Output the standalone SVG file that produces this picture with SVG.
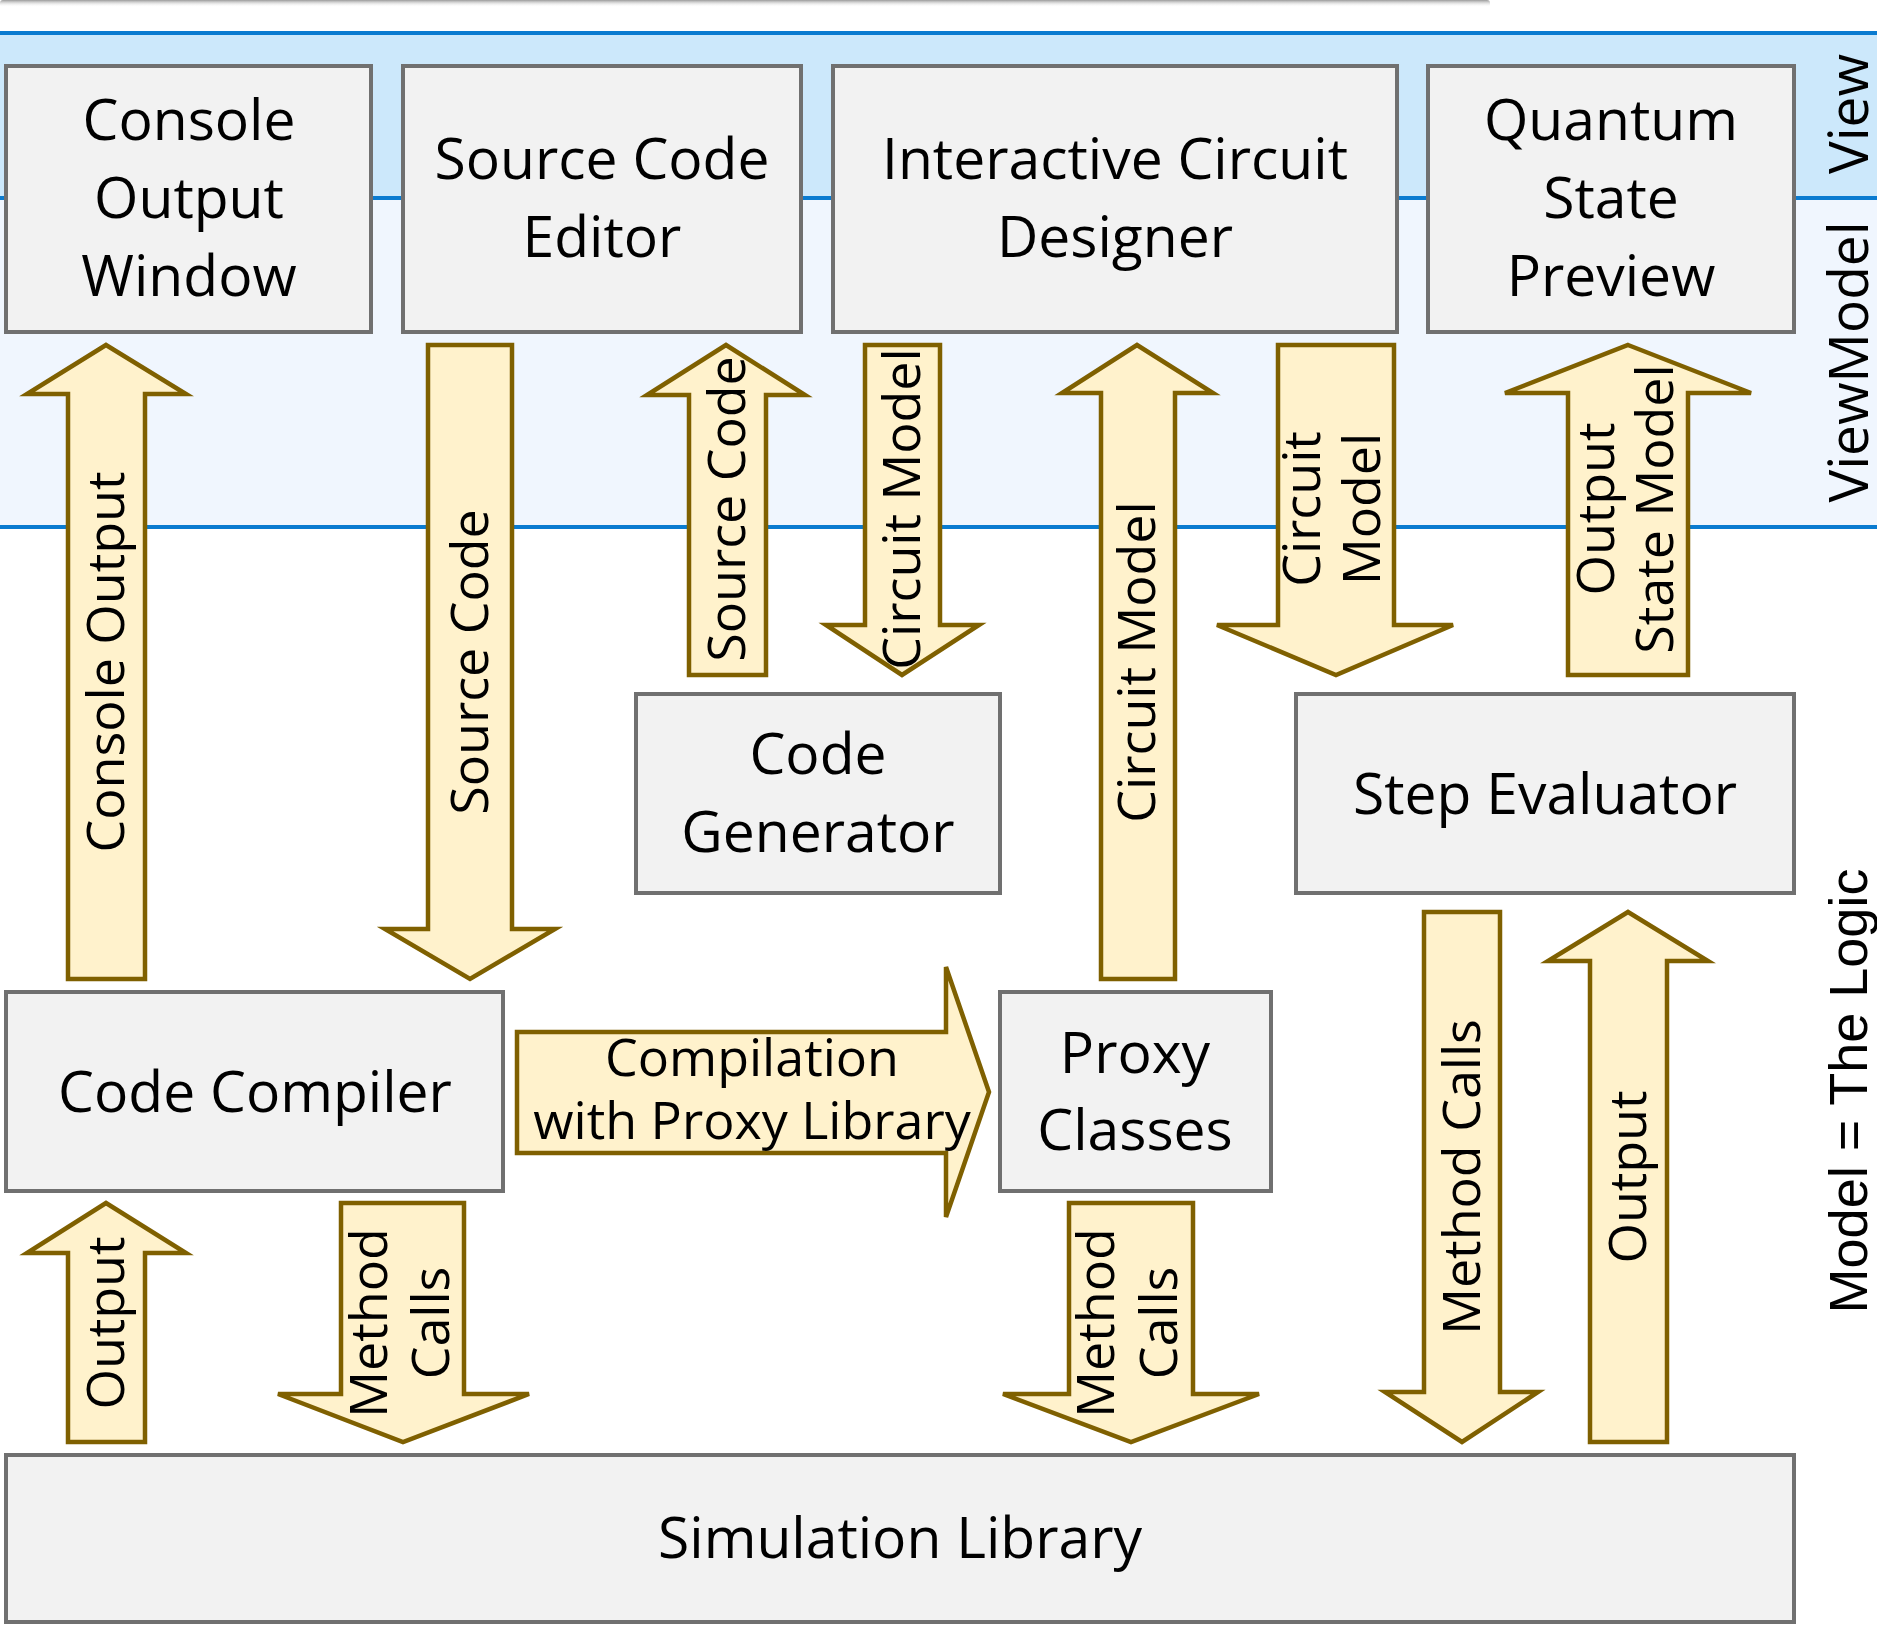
<svg xmlns="http://www.w3.org/2000/svg" width="1877" height="1650" viewBox="0 0 1877 1650">
  <defs>
    <linearGradient id="topShade" x1="0" y1="0" x2="0" y2="1">
      <stop offset="0" stop-color="#9a9a9a"/>
      <stop offset="1" stop-color="#ffffff" stop-opacity="0"/>
    </linearGradient>
    <style>
      .band-view { fill: #cce8fb; }
      .band-vm { fill: #f0f6fe; }
      .sep { stroke: #0a7bd0; stroke-width: 4; }
      .box { fill: #f2f2f2; stroke: #707070; stroke-width: 4; }
      .arrow { fill: #fff2cc; stroke: #7f6000; stroke-width: 4.5; stroke-linejoin: miter; }
      .lbl { font-family: "Open Sans", "Noto Sans", "DejaVu Sans", sans-serif; font-size: 57px; fill: #000; text-anchor: middle; }
      .alb { font-family: "Open Sans", "Noto Sans", "DejaVu Sans", sans-serif; font-size: 52px; fill: #000; text-anchor: middle; }
      .side { font-family: "Open Sans", "Noto Sans", "DejaVu Sans", sans-serif; font-size: 55px; fill: #000; text-anchor: middle; }
      .side2 { font-family: "Liberation Sans", Arial, sans-serif; font-size: 54px; fill: #000; text-anchor: middle; }
    </style>
  </defs>

  <rect width="1877" height="1650" fill="#ffffff"/>

  <!-- shadow strip along the top edge -->
  <rect x="0" y="0" width="1490" height="7" rx="3" fill="url(#topShade)"/>

  <!-- layer bands -->
  <g id="layers">
    <rect class="band-view" x="0" y="33" width="1877" height="165"/>
    <rect class="band-vm" x="0" y="198" width="1877" height="329"/>
    <line class="sep" x1="0" y1="33" x2="1877" y2="33"/>
    <line class="sep" x1="0" y1="198" x2="1877" y2="198"/>
    <line class="sep" x1="0" y1="527" x2="1877" y2="527"/>
    <text class="side" transform="translate(1868,114) rotate(-90)" x="0" y="0">View</text>
    <text class="side" transform="translate(1868,362) rotate(-90)" x="0" y="0">ViewModel</text>
    <text class="side2" transform="translate(1867,1091) rotate(-90)" x="0" y="0">Model = The Logic</text>
  </g>

  <!-- view components -->
  <g id="console-output-window">
    <rect class="box" x="6" y="66" width="365" height="266"/>
    <text class="lbl" x="189" y="140">Console</text>
    <text class="lbl" x="189" y="218">Output</text>
    <text class="lbl" x="189" y="296">Window</text>
  </g>
  <g id="source-code-editor">
    <rect class="box" x="403" y="66" width="398" height="266"/>
    <text class="lbl" x="602" y="179">Source Code</text>
    <text class="lbl" x="602" y="257">Editor</text>
  </g>
  <g id="interactive-circuit-designer">
    <rect class="box" x="833" y="66" width="564" height="266"/>
    <text class="lbl" x="1115" y="179">Interactive Circuit</text>
    <text class="lbl" x="1115" y="257">Designer</text>
  </g>
  <g id="quantum-state-preview">
    <rect class="box" x="1428" y="66" width="366" height="266"/>
    <text class="lbl" x="1611" y="140">Quantum</text>
    <text class="lbl" x="1611" y="218">State</text>
    <text class="lbl" x="1611" y="296">Preview</text>
  </g>

  <!-- model components -->
  <g id="code-generator">
    <rect class="box" x="636" y="694" width="364" height="199"/>
    <text class="lbl" x="818" y="774">Code</text>
    <text class="lbl" x="818" y="852">Generator</text>
  </g>
  <g id="step-evaluator">
    <rect class="box" x="1296" y="694" width="498" height="199"/>
    <text class="lbl" x="1545" y="814">Step Evaluator</text>
  </g>
  <g id="code-compiler">
    <rect class="box" x="6" y="992" width="497" height="199"/>
    <text class="lbl" x="255" y="1112">Code Compiler</text>
  </g>
  <g id="proxy-classes">
    <rect class="box" x="1000" y="992" width="271" height="199"/>
    <text class="lbl" x="1135" y="1073">Proxy</text>
    <text class="lbl" x="1135" y="1150">Classes</text>
  </g>
  <g id="simulation-library">
    <rect class="box" x="6" y="1455" width="1788" height="167"/>
    <text class="lbl" x="900" y="1558">Simulation Library</text>
  </g>

  <!-- block arrows between components -->
  <g id="connectors">
    <polygon class="arrow" points="106,345 186,394 145,394 145,979 68,979 68,394 27,394"/>
    <text class="alb" transform="translate(106,662) rotate(-90)" y="18">Console Output</text>

    <polygon class="arrow" points="428,345 512,345 512,929 555,929 470,979 385,929 428,929"/>
    <text class="alb" transform="translate(470,662) rotate(-90)" y="18">Source Code</text>

    <polygon class="arrow" points="726,345 805,395 766,395 766,675 689,675 689,395 647,395"/>
    <text class="alb" transform="translate(727,509) rotate(-90)" y="18">Source Code</text>

    <polygon class="arrow" points="865,345 940,345 940,625 979,625 902,675 826,625 865,625"/>
    <text class="alb" transform="translate(902,509) rotate(-90)" y="18">Circuit Model</text>

    <polygon class="arrow" points="1137,345 1213,393 1175,393 1175,979 1101,979 1101,393 1062,393"/>
    <text class="alb" transform="translate(1137,662) rotate(-90)" y="18">Circuit Model</text>

    <polygon class="arrow" points="1278,345 1394,345 1394,625 1453,625 1336,675 1217,625 1278,625"/>
    <text class="alb" transform="translate(1302,509) rotate(-90)" y="18">Circuit</text>
    <text class="alb" transform="translate(1362,509) rotate(-90)" y="18">Model</text>

    <polygon class="arrow" points="1628,345 1751,393 1688,393 1688,675 1568,675 1568,393 1505,393"/>
    <text class="alb" transform="translate(1596,509) rotate(-90)" y="18">Output</text>
    <text class="alb" transform="translate(1655,509) rotate(-90)" y="18">State Model</text>

    <polygon class="arrow" points="517,1032 946,1032 946,967 989,1092 946,1217 946,1153 517,1153"/>
    <text class="alb" x="752" y="1076">Compilation</text>
    <text class="alb" x="752" y="1139">with Proxy Library</text>

    <polygon class="arrow" points="106,1203 186,1253 145,1253 145,1442 68,1442 68,1253 27,1253"/>
    <text class="alb" transform="translate(106,1323) rotate(-90)" y="18">Output</text>

    <polygon class="arrow" points="341,1203 464,1203 464,1394 529,1394 403,1442 278,1394 341,1394"/>
    <text class="alb" transform="translate(369,1323) rotate(-90)" y="18">Method</text>
    <text class="alb" transform="translate(431,1323) rotate(-90)" y="18">Calls</text>

    <polygon class="arrow" points="1069,1203 1193,1203 1193,1394 1259,1394 1131,1442 1003,1394 1069,1394"/>
    <text class="alb" transform="translate(1096,1323) rotate(-90)" y="18">Method</text>
    <text class="alb" transform="translate(1159,1323) rotate(-90)" y="18">Calls</text>

    <polygon class="arrow" points="1424,912 1500,912 1500,1392 1538,1392 1462,1442 1385,1392 1424,1392"/>
    <text class="alb" transform="translate(1462,1177) rotate(-90)" y="18">Method Calls</text>

    <polygon class="arrow" points="1628,912 1708,961 1667,961 1667,1442 1590,1442 1590,961 1548,961"/>
    <text class="alb" transform="translate(1628,1177) rotate(-90)" y="18">Output</text>
  </g>
</svg>
